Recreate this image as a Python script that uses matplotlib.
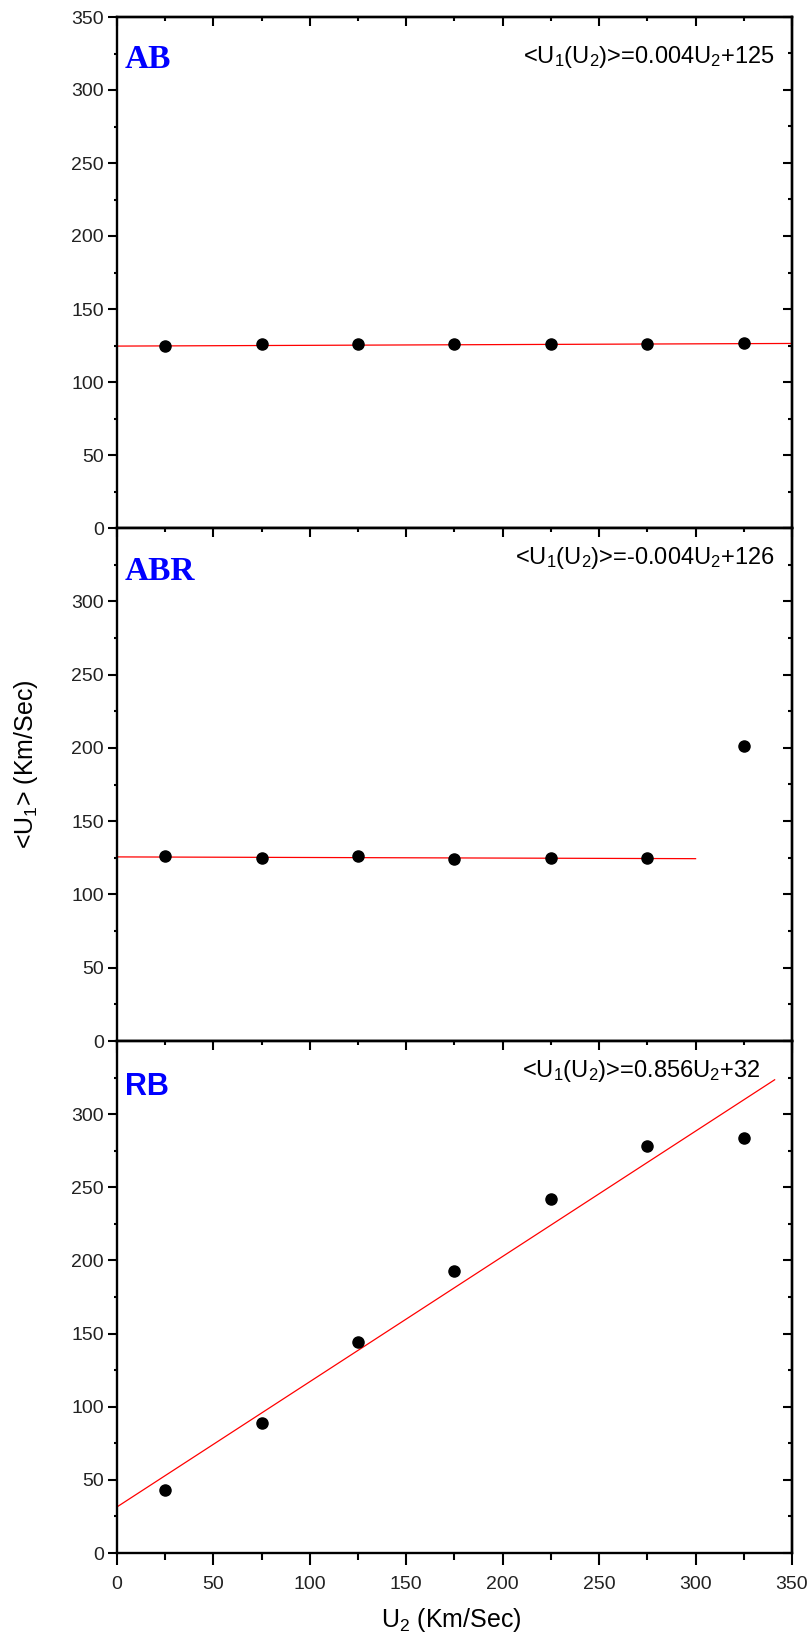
import matplotlib
matplotlib.use("Agg")
import matplotlib.pyplot as plt
from matplotlib.ticker import MultipleLocator

plt.rcParams['font.family'] = ['Liberation Sans', 'DejaVu Sans']
plt.rcParams['mathtext.fontset'] = 'custom'
plt.rcParams['mathtext.rm'] = 'Liberation Sans'
plt.rcParams['mathtext.it'] = 'Liberation Sans'

# ---- data ----
u2 = [25, 75, 125, 175, 225, 275, 325]

ab_u1 = [125, 126, 126, 126, 126, 126, 127]
ab_fit_x = [0, 350]
ab_fit_y = [124.6, 126.4]

abr_u1 = [126, 125, 126, 124, 125, 125, 201]
abr_fit_x = [0, 300]
abr_fit_y = [125.6, 124.4]

rb_u1 = [43, 89, 144, 193, 242, 278, 284]
rb_fit_x = [0, 341]
rb_fit_y = [31.5, 323.5]

panel_names = ["AB", "ABR", "RB"]
equations = [r'<U$_1$(U$_2$)>=0.004U$_2$+125',
             r'<U$_1$(U$_2$)>=-0.004U$_2$+126',
             r'<U$_1$(U$_2$)>=0.856U$_2$+32']
x_ticks = [0, 50, 100, 150, 200, 250, 300, 350]
y_ticks = [0, 50, 100, 150, 200, 250, 300, 350]

series = [(ab_u1, ab_fit_x, ab_fit_y),
          (abr_u1, abr_fit_x, abr_fit_y),
          (rb_u1, rb_fit_x, rb_fit_y)]

W, H = 812, 1641
fig = plt.figure(figsize=(W / 100, H / 100), dpi=100)

left_px, right_px = 117, 792
tops = [17, 528, 1041]
bottoms = [528, 1041, 1553]

label_styles = [
    dict(family='Liberation Serif', fontsize=24, fontweight='bold', color='#0000ff'),
    dict(family='Liberation Serif', fontsize=24, fontweight='bold', color='#0000ff'),
    dict(family='Liberation Sans', fontsize=22, fontweight='bold', color='#0000ff'),
]
label_pos_y = [59, 572, 1087]
eq_right_x = [775, 775, 760]
eq_y = [57, 558, 1071]

for i, (vals, fx, fy) in enumerate(series):
    t, b = tops[i], bottoms[i]
    ax = fig.add_axes([left_px / W, 1 - b / H, (right_px - left_px) / W, (b - t) / H])
    ax.set_xlim(0, 350)
    ax.set_ylim(0, 350)
    ax.plot(fx, fy, color='#ff0000', lw=0.9, zorder=2)
    ax.plot(u2, vals, 'o', color='black', ms=8, zorder=3)
    for s in ax.spines.values():
        s.set_linewidth(1.7)
    ax.xaxis.set_major_locator(MultipleLocator(50))
    ax.xaxis.set_minor_locator(MultipleLocator(25))
    ax.yaxis.set_major_locator(MultipleLocator(50))
    ax.yaxis.set_minor_locator(MultipleLocator(25))
    ax.set_yticks(y_ticks if i == 0 else y_ticks[:-1])
    ax.set_xticks(x_ticks)
    ax.tick_params(axis='both', which='both', width=1.5)
    ax.tick_params(axis='y', which='major', direction='out', length=6.5,
                   labelsize=14, pad=3, labelcolor='#222222')
    ax.tick_params(axis='y', which='minor', direction='out', length=2.2)
    ax.tick_params(axis='x', which='major', direction='out', length=8.5,
                   labelsize=14, pad=8, labelcolor='#222222')
    ax.tick_params(axis='x', which='minor', direction='out', length=5)
    # inward ticks on top and right
    axt = ax.secondary_xaxis('top')
    axt.set_xticks(x_ticks)
    axt.xaxis.set_minor_locator(MultipleLocator(25))
    axt.tick_params(which='major', direction='in', length=6.5, width=1.5, labeltop=False)
    axt.tick_params(which='minor', direction='in', length=3, width=1.5)
    axt.spines['top'].set_linewidth(1.7)
    axr = ax.secondary_yaxis('right')
    axr.set_yticks(y_ticks)
    axr.yaxis.set_minor_locator(MultipleLocator(25))
    axr.tick_params(which='major', direction='in', length=6.5, width=1.5, labelright=False)
    axr.tick_params(which='minor', direction='in', length=3, width=1.5)
    axr.spines['right'].set_linewidth(1.7)
    if i < 2:
        ax.tick_params(axis='x', labelbottom=False)

    fig.text(125 / W, 1 - label_pos_y[i] / H, panel_names[i], ha='left', va='center',
             **label_styles[i])
    fig.text(eq_right_x[i] / W, 1 - eq_y[i] / H, equations[i], ha='right', va='center',
             fontsize=17, color='black')

fig.text(26 / W, 1 - 764 / H, r'<U$_1$> (Km/Sec)', rotation=90, ha='center', va='center',
         fontsize=18)
fig.text(451 / W, 1 - 1620 / H, r'U$_2$ (Km/Sec)', ha='center', va='center', fontsize=18)

fig.savefig('out.png', dpi=100)
